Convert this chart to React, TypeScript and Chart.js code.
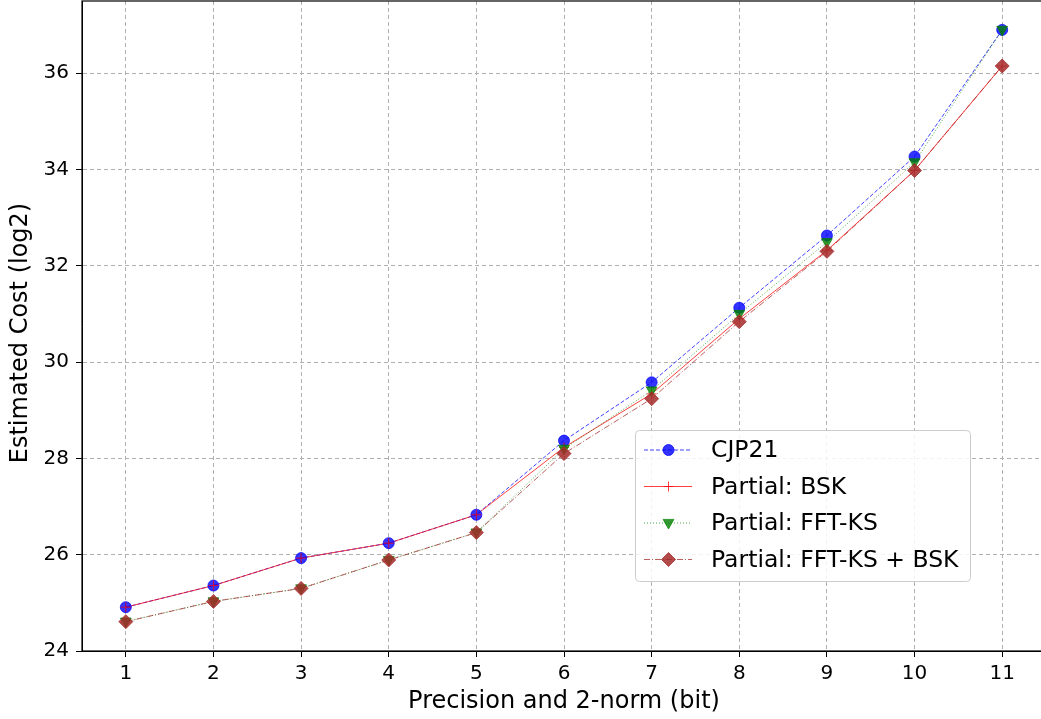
import React, { useEffect, useRef } from 'react';
import { Chart, registerables } from 'chart.js';

Chart.register(...registerables);

const xValues = [1, 2, 3, 4, 5, 6, 7, 8, 9, 10, 11];
const cjp21 = [24.91, 25.36, 25.93, 26.24, 26.83, 28.37, 29.58, 31.13, 32.63, 34.27, 36.9];
const partialBsk = [24.91, 25.36, 25.93, 26.24, 26.83, 28.23, 29.34, 30.9, 32.32, 33.98, 36.15];
const partialFftKs = [24.61, 25.03, 25.3, 25.89, 26.46, 28.2, 29.41, 31.0, 32.49, 34.15, 36.9];
const partialBoth = [24.61, 25.03, 25.3, 25.89, 26.46, 28.1, 29.24, 30.84, 32.3, 33.98, 36.15];
const seriesLabels = ['CJP21', 'Partial: BSK', 'Partial: FFT-KS', 'Partial: FFT-KS + BSK'];
const xTicks = [1, 2, 3, 4, 5, 6, 7, 8, 9, 10, 11];
const yTicks = [24, 26, 28, 30, 32, 34, 36];
const xTitle = 'Precision and 2-norm (bit)';
const yTitle = 'Estimated Cost (log2)';

const FONT = '"DejaVu Sans", sans-serif';

type Marker = 'circle' | 'plus' | 'tridown' | 'diamond';

function drawMarker(ctx: CanvasRenderingContext2D, kind: Marker, x: number, y: number, r: number, fill: string, stroke: string) {
  ctx.save();
  ctx.setLineDash([]);
  ctx.fillStyle = fill;
  ctx.strokeStyle = stroke;
  ctx.lineWidth = 1;
  ctx.beginPath();
  if (kind === 'circle') {
    ctx.arc(x, y, r, 0, Math.PI * 2);
    ctx.fill();
    ctx.stroke();
  } else if (kind === 'plus') {
    ctx.moveTo(x - r, y);
    ctx.lineTo(x + r, y);
    ctx.moveTo(x, y - r);
    ctx.lineTo(x, y + r);
    ctx.stroke();
  } else if (kind === 'tridown') {
    ctx.moveTo(x, y + r);
    ctx.lineTo(x - r * 0.9, y - r * 0.6);
    ctx.lineTo(x + r * 0.9, y - r * 0.6);
    ctx.closePath();
    ctx.fill();
    ctx.stroke();
  } else {
    ctx.moveTo(x, y - r);
    ctx.lineTo(x + r, y);
    ctx.lineTo(x, y + r);
    ctx.lineTo(x - r, y);
    ctx.closePath();
    ctx.fill();
    ctx.stroke();
  }
  ctx.restore();
}

const styles = [
  { color: 'rgba(0,0,255,0.75)', fill: 'rgba(0,0,255,0.8)', dash: [4, 2], marker: 'circle' as Marker, r: 5.5 },
  { color: 'rgba(255,0,0,0.75)', fill: 'rgba(255,0,0,0.8)', dash: [] as number[], marker: 'plus' as Marker, r: 5 },
  { color: 'rgba(0,128,0,0.7)', fill: 'rgba(0,128,0,0.8)', dash: [1, 2], marker: 'tridown' as Marker, r: 6 },
  { color: 'rgba(165,42,42,0.75)', fill: 'rgba(165,42,42,0.85)', dash: [6, 2, 1, 2], marker: 'diamond' as Marker, r: 7 },
];

export default function App() {
  const ref = useRef<HTMLCanvasElement>(null);

  useEffect(() => {
    document.body.style.margin = '0';
    const canvas = ref.current;
    if (!canvas) return;
    const mk = (arr: number[]) => xValues.map((x, i) => ({ x, y: arr[i] }));
    const all = [cjp21, partialBsk, partialFftKs, partialBoth];

    const markerPlugin = {
      id: 'customMarkers',
      afterDatasetsDraw(chart: any) {
        const ctx = chart.ctx as CanvasRenderingContext2D;
        const xs = chart.scales.x;
        const ys = chart.scales.y;
        all.forEach((arr, si) => {
          const st = styles[si];
          arr.forEach((v, i) => {
            drawMarker(ctx, st.marker, xs.getPixelForValue(xValues[i]), ys.getPixelForValue(v), st.r, st.fill, st.color);
          });
        });
        const a = chart.chartArea;
        ctx.save();
        ctx.strokeStyle = '#000';
        ctx.lineWidth = 1.2;
        ctx.setLineDash([]);
        ctx.strokeRect(a.left, a.top, a.right - a.left, a.bottom - a.top);
        ctx.restore();
        // y axis title
        ctx.save();
        ctx.fillStyle = '#000';
        ctx.font = `24px ${FONT}`;
        ctx.textAlign = 'center';
        ctx.textBaseline = 'middle';
        ctx.translate(21, 333);
        ctx.rotate(-Math.PI / 2);
        ctx.fillText(yTitle, 0, 0);
        ctx.restore();
        // legend
        ctx.save();
        const bx = 635.5, by = 430.5, bw = 335, bh = 151, rad = 4;
        ctx.beginPath();
        ctx.moveTo(bx + rad, by);
        ctx.lineTo(bx + bw - rad, by);
        ctx.quadraticCurveTo(bx + bw, by, bx + bw, by + rad);
        ctx.lineTo(bx + bw, by + bh - rad);
        ctx.quadraticCurveTo(bx + bw, by + bh, bx + bw - rad, by + bh);
        ctx.lineTo(bx + rad, by + bh);
        ctx.quadraticCurveTo(bx, by + bh, bx, by + bh - rad);
        ctx.lineTo(bx, by + rad);
        ctx.quadraticCurveTo(bx, by, bx + rad, by);
        ctx.closePath();
        ctx.fillStyle = 'rgba(255,255,255,0.85)';
        ctx.fill();
        ctx.strokeStyle = '#cccccc';
        ctx.lineWidth = 1;
        ctx.stroke();
        const rows = [450, 486.5, 523, 559.5];
        ctx.font = `23.5px ${FONT}`;
        ctx.textBaseline = 'middle';
        ctx.textAlign = 'left';
        rows.forEach((ry, i) => {
          const st = styles[i];
          ctx.save();
          ctx.strokeStyle = st.color;
          ctx.lineWidth = 1;
          ctx.setLineDash(st.dash);
          ctx.beginPath();
          ctx.moveTo(644, ry);
          ctx.lineTo(692, ry);
          ctx.stroke();
          ctx.restore();
          drawMarker(ctx, st.marker, 668.5, ry, st.r, st.fill, st.color);
          ctx.fillStyle = '#000';
          ctx.fillText(seriesLabels[i], 711, ry + 1);
        });
        ctx.restore();
      },
    };

    const chart = new Chart(canvas, {
      type: 'line',
      data: {
        datasets: all.map((arr, i) => ({
          label: seriesLabels[i],
          data: mk(arr),
          borderColor: styles[i].color,
          backgroundColor: styles[i].fill,
          borderWidth: 1,
          borderDash: styles[i].dash,
          pointRadius: 0,
          pointHoverRadius: 0,
          fill: false,
          tension: 0,
          order: 3 - i,
        })),
      },
      options: {
        animation: false,
        responsive: false,
        maintainAspectRatio: false,
        layout: { padding: { top: 1, left: 0, right: 0, bottom: 0 } },
        plugins: {
          legend: { display: false },
          tooltip: { enabled: false },
        },
        scales: {
          x: {
            type: 'linear',
            min: 0.5,
            max: 11.5,
            afterBuildTicks: (s: any) => {
              s.ticks = xTicks.map((v) => ({ value: v }));
            },
            afterFit: (s: any) => {
              s.height = 68;
              s.paddingLeft = 0;
              s.paddingRight = 0;
            },
            ticks: {
              color: '#000',
              font: { family: FONT, size: 20 },
              padding: 5,
              maxRotation: 0,
              autoSkip: false,
              callback: (v: any) => String(v),
            },
            grid: {
              color: '#b0b0b0',
              lineWidth: 1,
              tickLength: 6,
              tickColor: '#000',
              tickBorderDash: [],
              borderDash: [4, 3],
            } as any,
            border: { display: true, color: '#000', width: 1, dash: [4, 3] } as any,
            title: {
              display: true,
              text: xTitle,
              color: '#000',
              font: { family: FONT, size: 24 },
              padding: { top: 0, bottom: 3 },
            },
          },
          y: {
            type: 'linear',
            min: 24,
            max: 37.5,
            afterBuildTicks: (s: any) => {
              s.ticks = yTicks.map((v) => ({ value: v }));
            },
            afterFit: (s: any) => {
              s.width = 82;
              s.paddingTop = 0;
              s.paddingBottom = 0;
            },
            ticks: {
              color: '#000',
              font: { family: FONT, size: 20 },
              padding: 7,
              autoSkip: false,
              callback: (v: any) => String(v),
            },
            grid: {
              color: '#b0b0b0',
              lineWidth: 1,
              tickLength: 6,
              tickColor: '#000',
              tickBorderDash: [],
              borderDash: [4, 3],
            } as any,
            border: { display: true, color: '#000', width: 1, dash: [4, 3] } as any,
            title: { display: false },
          },
        },
      },
      plugins: [markerPlugin],
    });

    return () => {
      chart.destroy();
    };
  }, []);

  return (
    <div style={{ position: 'absolute', left: 0, top: 0, width: 1041, height: 719, overflow: 'hidden' }}>
      <canvas ref={ref} width={1046} height={719} style={{ display: 'block', width: 1046, height: 719 }} />
    </div>
  );
}
